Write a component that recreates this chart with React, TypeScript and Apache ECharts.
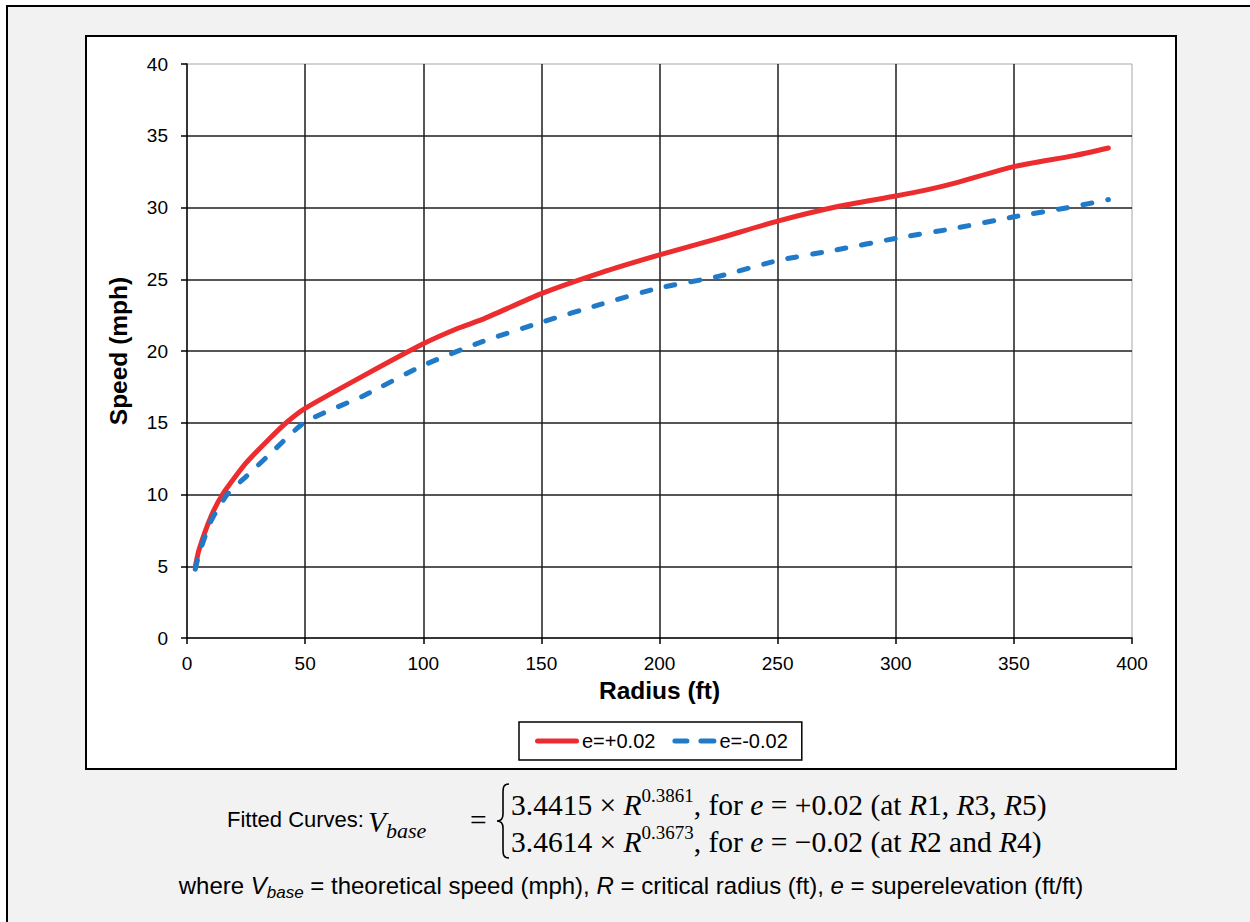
import React, { useEffect, useRef } from "react";
import * as echarts from "echarts";

const radiusPos = [3.5, 5, 10, 15, 25, 35, 42, 50, 75, 100, 115, 125, 150, 175, 200, 225, 250, 275, 300, 315, 325, 350, 375, 390];
const speedPos = [4.95, 6.1, 8.4, 10.0, 12.2, 13.9, 15.0, 16.0, 18.3, 20.5, 21.6, 22.2, 24.0, 25.45, 26.7, 27.85, 29.05, 30.05, 30.8, 31.3, 31.7, 32.85, 33.6, 34.15];
const radiusNeg = [3.5, 5, 10, 17, 25, 35, 50, 75, 100, 125, 150, 175, 200, 225, 250, 275, 300, 325, 350, 375, 390];
const speedNeg = [4.8, 5.8, 8.1, 10.0, 11.25, 12.8, 15.05, 16.9, 19.0, 20.65, 22.0, 23.25, 24.4, 25.2, 26.3, 27.05, 27.85, 28.55, 29.35, 30.05, 30.55];
const seriesNames = ["e=+0.02", "e=-0.02"];

const SANS = "Liberation Sans, Arial, sans-serif";
const SERIF = "Liberation Serif, Times New Roman, serif";
const RED = "#ec2d2f";
const BLUE = "#217ac8";

echarts.graphic.registerShape(
  "brace",
  echarts.graphic.extendPath(
    "M12,0 C6,0 6,4 6,10 L6,30 C6,35 4,37 0,37 C4,37 6,39 6,44 L6,64 C6,70 6,74 12,74",
    {}
  )
);

export default function App() {
  const ref = useRef<HTMLDivElement>(null);
  useEffect(() => {
    if (!ref.current) return;
    const chart = echarts.init(ref.current, null, { renderer: "svg" });
    const FS = 29.5;
    const serifRich = {
      n: { fontFamily: SERIF, fontSize: FS, color: "#000", lineHeight: 34, verticalAlign: "bottom" },
      i: { fontFamily: SERIF, fontSize: FS, fontStyle: "italic", color: "#000", lineHeight: 34, verticalAlign: "bottom" },
      sup: { fontFamily: SERIF, fontSize: 19, color: "#000", lineHeight: 19, verticalAlign: "top" },
    };
    chart.setOption({
      animation: false,
      backgroundColor: "#ffffff",
      graphic: [
        { type: "rect", z: -20, shape: { x: 7, y: 6, width: 1400, height: 1000 }, style: { fill: "#f2f2f2", stroke: "#000", lineWidth: 2 } },
        { type: "rect", z: -10, shape: { x: 86, y: 36, width: 1090, height: 733 }, style: { fill: "#ffffff", stroke: "#000", lineWidth: 2 } },
        {
          type: "text", x: 227, y: 819,
          style: { text: "Fitted Curves:", fontFamily: SANS, fontSize: 22, fill: "#000", verticalAlign: "middle" },
        },
        {
          type: "text", x: 368, y: 824,
          style: {
            text: "{v|V}{s|base}",
            verticalAlign: "middle",
            rich: {
              v: { fontFamily: SERIF, fontSize: FS, fontStyle: "italic", color: "#000", lineHeight: 34, verticalAlign: "top" },
              s: { fontFamily: SERIF, fontSize: 22, fontStyle: "italic", color: "#000", lineHeight: 22, verticalAlign: "bottom" },
            },
          },
        },
        {
          type: "text", x: 470, y: 820,
          style: { text: "=", fontFamily: SERIF, fontSize: FS, fill: "#000", verticalAlign: "middle" },
        },
        { type: "brace", x: 497, y: 784, style: { fill: "none", stroke: "#000", lineWidth: 1.6 } },
        {
          type: "text", x: 511, y: 803,
          style: {
            text: "{n|3.4415 × }{i|R}{sup|0.3861}{n|, for }{i|e}{n| = +0.02 (at }{i|R}{n|1, }{i|R}{n|3, }{i|R}{n|5)}",
            verticalAlign: "middle",
            rich: serifRich,
          },
        },
        {
          type: "text", x: 511, y: 840,
          style: {
            text: "{n|3.4614 × }{i|R}{sup|0.3673}{n|, for }{i|e}{n| = −0.02 (at }{i|R}{n|2 and }{i|R}{n|4)}",
            verticalAlign: "middle",
            rich: serifRich,
          },
        },
        {
          type: "text", x: 631, y: 887,
          style: {
            text: "{n|where }{i|V}{s|base}{n| = theoretical speed (mph), }{i|R}{n| = critical radius (ft), }{i|e}{n| = superelevation (ft/ft)}",
            align: "center",
            verticalAlign: "middle",
            rich: {
              n: { fontFamily: SANS, fontSize: 24, color: "#000", lineHeight: 28, verticalAlign: "top" },
              i: { fontFamily: SANS, fontSize: 24, fontStyle: "italic", color: "#000", lineHeight: 28, verticalAlign: "top" },
              s: { fontFamily: SANS, fontSize: 17, fontStyle: "italic", color: "#000", lineHeight: 17, verticalAlign: "bottom" },
            },
          },
        },
      ],
      grid: {
        left: 187, right: 118, top: 64, bottom: 284,
        show: true, borderColor: "#a6a6a6", borderWidth: 1, backgroundColor: "transparent",
      },
      legend: {
        left: 519, top: 722,
        padding: [9, 14, 9, 16],
        itemWidth: 44, itemHeight: 5, itemGap: 17,
        backgroundColor: "#fff", borderColor: "#000", borderWidth: 1.5, borderRadius: 0,
        textStyle: { fontFamily: SANS, fontSize: 20, color: "#000", padding: [0, 0, 0, -2] },
        data: [
          { name: seriesNames[0], icon: "path://M2.5,0 H41.5 A2.5,2.5 0 0 1 41.5,5 H2.5 A2.5,2.5 0 0 1 2.5,0 Z" },
          { name: seriesNames[1], icon: "path://M2.5,0 H14.5 A2.5,2.5 0 0 1 14.5,5 H2.5 A2.5,2.5 0 0 1 2.5,0 Z M28.5,0 H41.5 A2.5,2.5 0 0 1 41.5,5 H28.5 A2.5,2.5 0 0 1 28.5,0 Z" },
        ],
      },
      xAxis: {
        type: "value", min: 0, max: 400, interval: 50,
        name: "Radius (ft)", nameLocation: "middle", nameGap: 40,
        nameTextStyle: { fontFamily: SANS, fontSize: 24.5, fontWeight: "bold", color: "#000" },
        axisLine: { show: true, onZero: false, lineStyle: { color: "#000", width: 1.5 } },
        axisTick: { show: true, length: 6, lineStyle: { color: "#000", width: 1.5 } },
        axisLabel: { fontFamily: SANS, fontSize: 19, color: "#000", margin: 16 },
        splitLine: { show: true, showMinLine: false, showMaxLine: false, lineStyle: { color: "#1e1e1e", width: 1.5 } },
      },
      yAxis: {
        type: "value", min: 0, max: 40, interval: 5,
        name: "Speed (mph)", nameLocation: "middle", nameGap: 56, nameRotate: 90,
        nameTextStyle: { fontFamily: SANS, fontSize: 24.5, fontWeight: "bold", color: "#000" },
        axisLine: { show: true, onZero: false, lineStyle: { color: "#000", width: 1.5 } },
        axisTick: { show: true, length: 6, lineStyle: { color: "#000", width: 1.5 } },
        axisLabel: { fontFamily: SANS, fontSize: 19, color: "#000", margin: 19 },
        splitLine: { show: true, showMinLine: false, showMaxLine: false, lineStyle: { color: "#1e1e1e", width: 1.5 } },
      },
      series: [
        {
          name: seriesNames[0], type: "line", symbol: "none", showSymbol: false, smooth: 0.2,
          data: radiusPos.map((r, i) => [r, speedPos[i]]),
          lineStyle: { color: RED, width: 5, cap: "round", join: "round" },
          itemStyle: { color: RED },
          z: 3,
        },
        {
          name: seriesNames[1], type: "line", symbol: "none", showSymbol: false, smooth: 0.2,
          data: radiusNeg.map((r, i) => [r, speedNeg[i]]),
          lineStyle: { color: BLUE, width: 5, type: [9, 16], cap: "round", join: "round" },
          itemStyle: { color: BLUE },
          z: 4,
        },
      ],
    });
    return () => chart.dispose();
  }, []);
  return <div ref={ref} style={{ position: "absolute", left: 0, top: 0, width: 1250, height: 922 }} />;
}
